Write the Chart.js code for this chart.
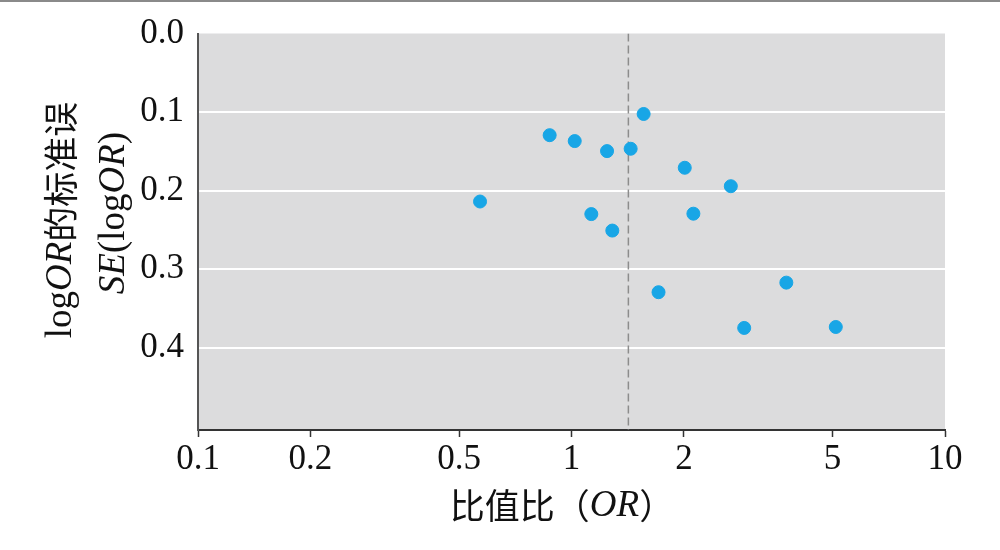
<!DOCTYPE html>
<html>
<head>
<meta charset="utf-8">
<script src="https://cdn.jsdelivr.net/npm/chart.js@4"></script>
<style>
  html, body { margin: 0; padding: 0; background: #fff; }
  body { border-top: 2px solid #8a8a8a; box-sizing: border-box; width: 1000px; height: 550px; }
  #wrap { width: 1000px; height: 548px; }
</style>
</head>
<body>
<div id="wrap"><canvas id="myChart"></canvas></div>
<script>
// odds ratio of each study (x) and standard error of log OR (y)
var oddsRatio = [1.56, 0.874, 1.02, 1.245, 1.44, 2.01, 2.67, 0.569, 1.13, 2.12, 1.286, 3.76, 1.71, 2.90, 5.10];
var seLogOR   = [0.1025, 0.1295, 0.137, 0.1498, 0.1468, 0.171, 0.1945, 0.214, 0.230, 0.2295, 0.251, 0.3173, 0.3295, 0.375, 0.3738];
// pooled estimate (dashed vertical line)
var pooledOR = 1.42;
// tick labels
var xTicks = [0.1, 0.2, 0.5, 1, 2, 5, 10];
var yTicks = [0, 0.1, 0.2, 0.3, 0.4];

var serif = "'Liberation Serif', 'DejaVu Serif', serif";
var cjk = "'Noto Sans CJK SC', sans-serif";

var points = oddsRatio.map(function (v, i) { return { x: v, y: seLogOR[i] }; });

// gray panel behind the plot
var panelBg = {
  id: 'panelBg',
  beforeDraw: function (chart) {
    var a = chart.chartArea, c = chart.ctx;
    c.save();
    c.fillStyle = '#dcdcdd';
    c.fillRect(a.left, a.top, a.right - a.left, a.bottom - a.top);
    c.restore();
  }
};

// draw a run of text pieces with their own fonts, centered on (x, y)
function drawRun(c, parts, x, y) {
  var total = 0;
  parts.forEach(function (p) { c.font = p[1]; total += c.measureText(p[0]).width; });
  var pos = x - total / 2;
  parts.forEach(function (p) {
    c.font = p[1];
    c.fillText(p[0], pos, y);
    pos += c.measureText(p[0]).width;
  });
}

// axis titles mix Chinese and italic Latin, so draw them by hand
var axisTitles = {
  id: 'axisTitles',
  afterDraw: function (chart) {
    var c = chart.ctx;
    c.save();
    c.fillStyle = '#111';
    c.textBaseline = 'middle';
    c.textAlign = 'left';
    drawRun(c, [
      ['比值比（', '35px ' + cjk],
      ['OR', 'italic 37px ' + serif],
      ['）', '35px ' + cjk]
    ], 562, 504);

    c.translate(61, 218);
    c.rotate(-Math.PI / 2);
    drawRun(c, [
      ['log', '37px ' + serif],
      ['OR', 'italic 37px ' + serif],
      ['的标准误', '35px ' + cjk]
    ], 0, 0);
    c.translate(7, 53);
    drawRun(c, [
      ['SE', 'italic 37px ' + serif],
      ['(log', '37px ' + serif],
      ['OR', 'italic 37px ' + serif],
      [')', '37px ' + serif]
    ], 0, 0);
    c.restore();
  }
};

var ctx = document.getElementById("myChart");
var myChart = new Chart(ctx, {
  type: 'scatter',
  data: {
    datasets: [
      {
        data: points,
        backgroundColor: '#18a6e6',
        borderColor: '#18a6e6',
        pointRadius: 6.5,
        pointHoverRadius: 6.5
      },
      {
        type: 'line',
        data: [{ x: pooledOR, y: 0 }, { x: pooledOR, y: 0.505 }],
        borderColor: '#8c8c8c',
        borderWidth: 1.5,
        borderDash: [8, 4],
        pointRadius: 0,
        fill: false
      }
    ]
  },
  options: {
    responsive: true,
    maintainAspectRatio: false,
    animation: false,
    layout: { padding: { top: 29, right: 55, left: 0, bottom: 0 } },
    plugins: {
      legend: { display: false },
      tooltip: { enabled: false }
    },
    scales: {
      x: {
        type: 'logarithmic',
        min: 0.1,
        max: 10,
        afterBuildTicks: function (s) { s.ticks = xTicks.map(function (v) { return { value: v }; }); },
        afterFit: function (s) { s.height = 120; },
        ticks: {
          color: '#111',
          font: { family: serif, size: 35 },
          padding: 2,
          maxRotation: 0,
          autoSkip: false,
          callback: function (v) { return String(v); }
        },
        grid: { drawOnChartArea: false, drawTicks: true, tickLength: 7, tickColor: '#333', tickWidth: 1.5 },
        border: { color: '#333', width: 2 }
      },
      y: {
        reverse: true,
        min: 0,
        max: 0.505,
        afterBuildTicks: function (s) { s.ticks = yTicks.map(function (v) { return { value: v }; }); },
        afterFit: function (s) { s.width = 198; },
        ticks: {
          color: '#111',
          font: { family: serif, size: 35, lineHeight: 1 },
          padding: 14,
          callback: function (v) { return v.toFixed(1); }
        },
        grid: {
          drawTicks: false,
          lineWidth: 2,
          color: function (c) { return c.tick && c.tick.value === 0 ? 'rgba(0,0,0,0)' : '#ffffff'; }
        },
        border: { color: '#555', width: 2 }
      }
    }
  },
  plugins: [panelBg, axisTitles]
});
</script>
</body>
</html>
